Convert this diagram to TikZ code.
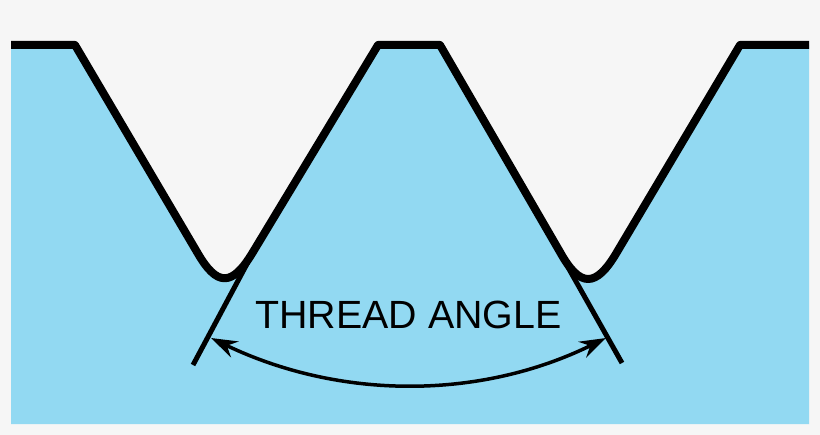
\documentclass[tikz,border=0pt]{standalone}
\usepackage{fontspec}
\setmainfont{Liberation Sans}
\usetikzlibrary{arrows.meta}
\definecolor{paper}{HTML}{F6F6F6}
\definecolor{steel}{HTML}{92D9F2}
\begin{document}
\begin{tikzpicture}[x=0.02cm, y=-0.02cm, >={Stealth[inset=5pt,length=15pt,width=10pt]}]
        \tikzstyle{profile}=[draw=black, line width=0.16cm, line join=round]
        \tikzstyle{flank}=[draw=black, line width=0.1cm]
        \tikzstyle{span}=[->, draw=black, line width=0.07cm]

        \useasboundingbox (0,0) rectangle (820,435);
        \fill[paper] (0,0) rectangle (820,435);

        % Thread body
        \fill[steel] (11,45) -- (75,45) -- (197,252)
            .. controls (217,287) and (232,287) .. (253,252)
            -- (378,45) -- (440,45) -- (560,252)
            .. controls (580,288) and (596,288) .. (617,252)
            -- (740,45) -- (809,45) -- (809,424) -- (11,424) -- cycle;

        % Profile line
        \draw[profile] (11,45) -- (75,45) -- (197,252)
            .. controls (217,287) and (232,287) .. (253,252)
            -- (378,45) -- (440,45) -- (560,252)
            .. controls (580,288) and (596,288) .. (617,252)
            -- (740,45) -- (809,45);

        % Flank extensions
        \coordinate (lt) at (248,262);
        \coordinate (lb) at (193,365);
        \coordinate (rt) at (565,262);
        \coordinate (rb) at (622,363);
        \draw[flank] (lt) -- (lb);
        \draw[flank] (rt) -- (rb);

        % Angle arrow
        \coordinate (la) at (211,338);
        \coordinate (ra) at (606,338);
        \draw[span, <->] (la) .. controls (340,400) and (480,400) .. (ra);

        \node[font=\fontsize{22.4pt}{26pt}\selectfont, inner sep=0pt] (angle) at (408.5,315) {THREAD ANGLE};
\end{tikzpicture}
\end{document}
